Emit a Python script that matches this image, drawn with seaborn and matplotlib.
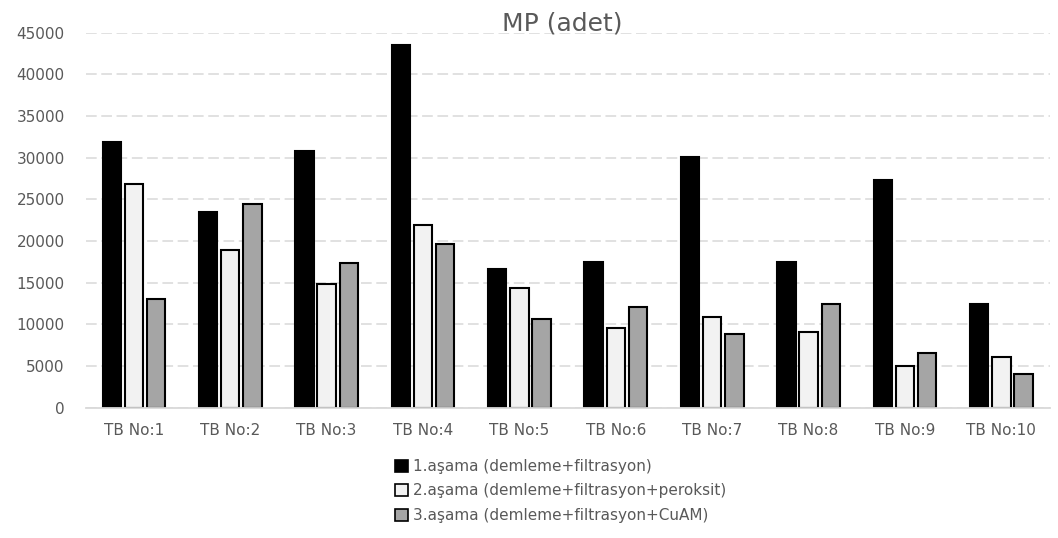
import matplotlib
matplotlib.use("Agg")
import matplotlib.pyplot as plt
import seaborn as sns
import pandas as pd

categories = ["TB No:1", "TB No:2", "TB No:3", "TB No:4", "TB No:5",
              "TB No:6", "TB No:7", "TB No:8", "TB No:9", "TB No:10"]
series_names = ["1.aşama (demleme+filtrasyon)",
                "2.aşama (demleme+filtrasyon+peroksit)",
                "3.aşama (demleme+filtrasyon+CuAM)"]
stage1 = [31900, 23500, 30800, 43500, 16700, 17450, 30100, 17450, 27300, 12400]
stage2 = [26800, 18950, 14900, 21950, 14400, 9550, 10850, 9100, 5000, 6050]
stage3 = [13100, 24500, 17400, 19700, 10600, 12100, 8850, 12400, 6550, 4000]
colors = ["#000000", "#f2f2f2", "#a5a5a5"]
yticks = list(range(0, 45001, 5000))

rows = []
for name, vals in zip(series_names, [stage1, stage2, stage3]):
    for cat, v in zip(categories, vals):
        rows.append({"kategori": cat, "seri": name, "deger": v})
df = pd.DataFrame(rows)

sns.set_theme(style="white")
plt.rcParams["font.family"] = ["DejaVu Sans"]
text_color = "#595959"

fig = plt.figure(figsize=(10.58, 5.38), dpi=100)
ax = fig.add_axes([0.081, 0.242, 0.911, 0.697])

sns.barplot(data=df, x="kategori", y="deger", hue="seri", order=categories,
            hue_order=series_names, palette=colors, width=0.69, gap=0.17,
            edgecolor="black", linewidth=1.5, ax=ax, legend=True)

ax.set_ylim(0, 45000)
ax.set_xlim(-0.5, len(categories) - 0.5)
ax.set_yticks(yticks)
ax.set_yticklabels([str(t) for t in yticks])
ax.yaxis.grid(True, color="#d9d9d9", linestyle=(0, (7, 3)), linewidth=1.1)
ax.set_axisbelow(True)
for s in ["top", "right", "left"]:
    ax.spines[s].set_visible(False)
ax.spines["bottom"].set_color("#d9d9d9")
ax.spines["bottom"].set_linewidth(1.3)
ax.tick_params(axis="both", length=0, labelsize=11, colors=text_color)
ax.tick_params(axis="y", pad=15)
ax.tick_params(axis="x", pad=11)
ax.set_xlabel("")
ax.set_ylabel("")

fig.text(562 / 1058, 1 - 30 / 538, "MP (adet)", ha="center", va="baseline",
         fontsize=18, color=text_color)

handles, labels = ax.get_legend_handles_labels()
ax.legend_.remove()
for h in handles:
    h.set_linewidth(1.2)
fig.legend(handles, labels, loc="upper left", bbox_to_anchor=(395 / 1058, 1 - 459 / 538),
           frameon=False, ncol=1, fontsize=11, labelcolor=text_color,
           handlelength=0.85, handleheight=0.85, handletextpad=0.3,
           labelspacing=0.62, borderpad=0, borderaxespad=0)

fig.savefig("out.png", dpi=100)
